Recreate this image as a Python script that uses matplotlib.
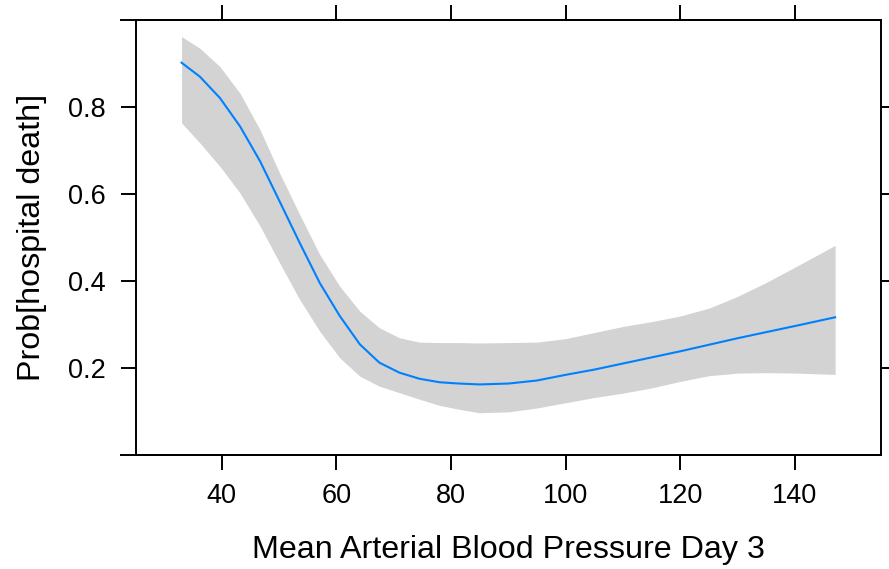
import matplotlib.pyplot as plt
import numpy as np
from matplotlib.lines import Line2D

plt.rcParams['font.family'] = ['Liberation Sans', 'DejaVu Sans']

# Mean arterial blood pressure (day 3) and predicted probability with 95% band
map_day3 = np.array([33.0, 36.2, 39.7, 43.2, 46.7, 50.1, 53.6, 57.1, 60.6, 64.1,
                     67.5, 71.0, 74.5, 78.0, 81.4, 85, 90, 95, 100, 105, 110,
                     115, 120, 125, 130, 135, 140, 147])
prob = np.array([0.901, 0.869, 0.820, 0.755, 0.675, 0.583, 0.488, 0.396, 0.320,
                 0.255, 0.213, 0.190, 0.176, 0.168, 0.165, 0.163, 0.165, 0.172,
                 0.185, 0.197, 0.211, 0.225, 0.239, 0.254, 0.269, 0.283, 0.297,
                 0.317])
upper = np.array([0.961, 0.934, 0.892, 0.831, 0.747, 0.648, 0.553, 0.461, 0.388,
                  0.331, 0.293, 0.270, 0.260, 0.259, 0.259, 0.258, 0.259, 0.260,
                  0.268, 0.282, 0.296, 0.307, 0.320, 0.338, 0.365, 0.397, 0.432,
                  0.482])
lower = np.array([0.763, 0.717, 0.663, 0.602, 0.526, 0.442, 0.358, 0.285, 0.224,
                  0.182, 0.159, 0.144, 0.129, 0.115, 0.106, 0.098, 0.100, 0.109,
                  0.121, 0.133, 0.143, 0.155, 0.170, 0.183, 0.189, 0.190, 0.189,
                  0.186])

xticks = [40, 60, 80, 100, 120, 140]
yticks = [0.2, 0.4, 0.6, 0.8]

fig = plt.figure(figsize=(8.89, 5.69), dpi=100)
ax = fig.add_axes([0.1526, 0.1995, 0.991 - 0.1526, 0.9657 - 0.1995])

ax.fill_between(map_day3, lower, upper, color='#d3d3d3', linewidth=0)
ax.plot(map_day3, prob, color='#0080ff', linewidth=1.5)

ax.set_xlim(25.0, 155.0)
ax.set_ylim(0.0, 1.0)
ax.set_xticks(xticks)
ax.set_yticks(yticks)
ax.set_yticklabels(['0.2', '0.4', '0.6', '0.8'])

ax.tick_params(direction='out', length=10.8, width=1.4, labelsize=19.5,
               top=True, right=True, labeltop=False, labelright=False)
ax.tick_params(axis='x', pad=9)
ax.tick_params(axis='y', pad=11)
for sp in ax.spines.values():
    sp.set_linewidth(1.4)

# horizontal frame lines reach a little past the left edge
ext = -15.0 / 745.0
for yy in (0, 1):
    ax.add_line(Line2D([ext, 1], [yy, yy], transform=ax.transAxes,
                       color='black', linewidth=1.4, clip_on=False))

ax.set_xlabel('Mean Arterial Blood Pressure Day 3', fontsize=23.2, labelpad=19)
ax.set_ylabel('Prob[hospital death]', fontsize=23.2, labelpad=15)

fig.savefig('out.png', dpi=100)
